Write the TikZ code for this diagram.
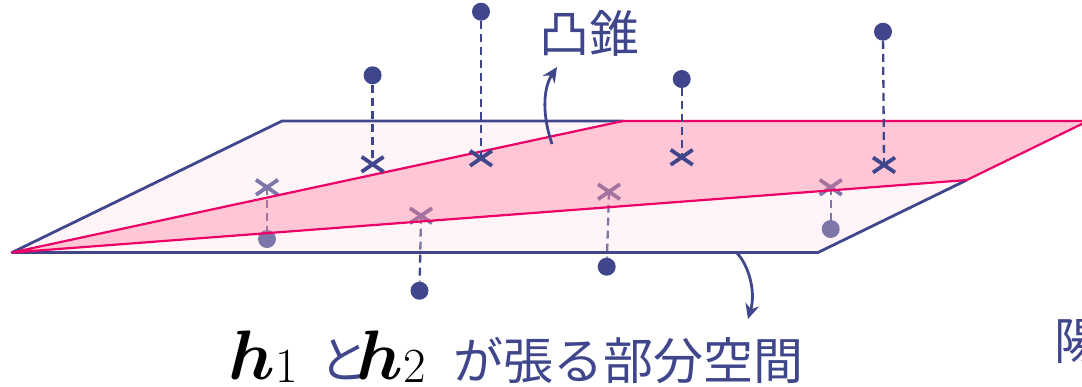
\RequirePackage{fix-cm}
\documentclass[tikz,border=0pt]{standalone}
\usepackage{fontspec}
\usepackage{amsmath,bm}
\usetikzlibrary{arrows.meta,calc}
\newfontfamily\jp{Noto Sans CJK JP}
\definecolor{ink}{RGB}{64,70,140}
\definecolor{mag}{RGB}{236,0,104}
\definecolor{planefill}{RGB}{255,221,230}
\definecolor{conefill}{RGB}{255,106,144}
\newcommand{\hsub}[1]{$\bm{h}$\kern1pt\raisebox{-3pt}{\fontsize{49}{50}\selectfont #1}}
\begin{document}
\begin{tikzpicture}[x=1pt,y=-1pt,
  dot/.style={circle,fill=ink,inner sep=0pt,minimum size=18pt},
  drop/.style={ink,line width=2.3pt,dash pattern=on 8pt off 5pt},
  planeedge/.style={ink,line width=2.8pt,line join=round},
  coneedge/.style={mag,line width=2.2pt,line join=round},
  callout/.style={ink,line width=2.8pt,-{Stealth[length=15pt,width=14pt]}},
  xmark/.pic={\draw[ink,line width=3.8pt] (-11,-7.5)--(11,7.5) (-11,7.5)--(11,-7.5);},
  jptext/.style={font=\jp\fontsize{50}{60}\selectfont,text=ink,inner sep=0pt},
  mathtext/.style={font=\fontsize{70}{80}\selectfont,inner sep=0pt}]
\useasboundingbox (0,0) rectangle (1082,386);

% plane corners and cone corners
\coordinate (P1) at (12,252.5);
\coordinate (P2) at (282,121);
\coordinate (P3) at (1088,121);
\coordinate (P4) at (818,252.5);
\coordinate (C1) at (623,121);
\coordinate (C2) at ($(P4)!0.551!(P3)$);

% points below the plane
\coordinate (xE) at (267,187.3);
\node[dot] (pE) at (267,239) {};
\coordinate (xF) at (421,215.7);
\node[dot] (pF) at (419.5,290.7) {};
\coordinate (xG) at (609,191.7);
\node[dot] (pG) at (606.7,266.7) {};
\coordinate (xH) at (830.7,187.3);
\node[dot] (pH) at (830.7,229) {};
\draw[drop] (xE) -- (pE);
\draw[drop] (xF) -- (pF);
\draw[drop] (xG) -- (pG);
\draw[drop] (xH) -- (pH);
\pic at (xE) {xmark};
\pic at (xF) {xmark};
\pic at (xG) {xmark};
\pic at (xH) {xmark};

% plane and cone fills
\fill[planefill,opacity=0.32] (P1) -- (P2) -- (P3) -- (P4) -- cycle;
\fill[conefill,opacity=0.32] (P1) -- (C1) -- (P3) -- (C2) -- cycle;

% edges
\draw[planeedge] (C1) -- (P2) -- (P1) -- (P4) -- (C2);
\draw[coneedge] (P1) -- (C1) -- (P3) -- (C2) -- cycle;

% points above the plane
\node[dot] (pA) at (372.6,75.3) {};
\coordinate (xA) at (372.6,164.3);
\node[dot] (pB) at (481,11.7) {};
\coordinate (xB) at (481,158.3);
\node[dot] (pC) at (681.7,79) {};
\coordinate (xC) at (681.7,157.3);
\node[dot] (pD) at (883,31.7) {};
\coordinate (xD) at (884,165);
\draw[drop] (pA) -- (xA);
\draw[drop] (pB) -- (xB);
\draw[drop] (pC) -- (xC);
\draw[drop] (pD) -- (xD);
\pic at (xA) {xmark};
\pic at (xB) {xmark};
\pic at (xC) {xmark};
\pic at (xD) {xmark};

% labels
\node[jptext,anchor=base west] (cone) at (539,52) {凸錐};
\node[mathtext,anchor=base west] (h1) at (228,379) {\hsub{1}};
\node[jptext,anchor=base west] (to) at (319,378) {と};
\node[mathtext,anchor=base west] (h2) at (356,379) {\hsub{2}};
\node[jptext,anchor=base west] (span) at (453,379) {が張る部分空間};
\node[jptext,anchor=base west] (yo) at (1054,359) {陽};

% callout arrows
\coordinate (coneFrom) at (552,144);
\coordinate (coneTo) at (557,67);
\coordinate (spanFrom) at (737,253);
\coordinate (spanTo) at (748,319);
\draw[callout] (coneFrom) .. controls (543,118) and (542,90) .. (coneTo);
\draw[callout] (spanFrom) .. controls (749,266) and (756,292) .. (spanTo);
\end{tikzpicture}
\end{document}
